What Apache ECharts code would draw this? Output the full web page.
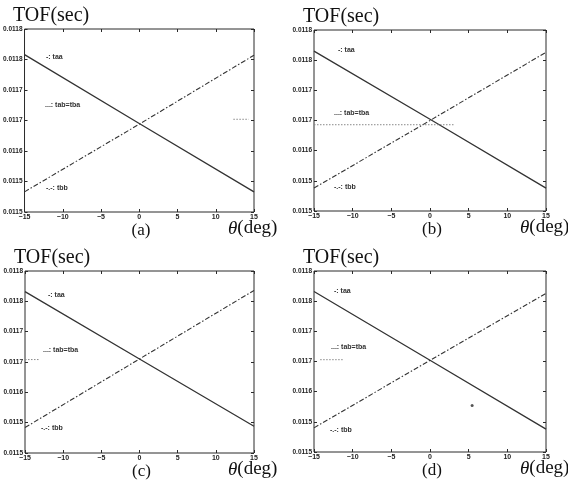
<!DOCTYPE html>
<html>
<head>
<meta charset="utf-8">
<script src="https://cdn.jsdelivr.net/npm/echarts@6/dist/echarts.min.js"></script>
<style>
  html, body { margin: 0; padding: 0; background: #fff; }
  #chart { width: 568px; height: 491px; }
</style>
</head>
<body>
<div id="chart"></div>
<script>
// theta values (deg) where the curves were read
const theta = [-15, 0, 15];
// MATLAB-style rounded tick labels, bottom to top
const yTickLabels = ["0.0115", "0.0115", "0.0116", "0.0117", "0.0117", "0.0118", "0.0118"];

// TOF (sec) per panel
const taaA = [0.011758, 0.011645, 0.011533];
const tbbA = [0.011533, 0.011644, 0.011757];
const tabA = [[12.3, 0.011652], [14.3, 0.011652]];

const taaB = [0.011765, 0.011652, 0.011538];
const tbbB = [0.011538, 0.01165, 0.011763];
const tabB = [[-15, 0.011643], [3.2, 0.011643]];

const taaC = [0.011766, 0.011655, 0.011544];
const tbbC = [0.011542, 0.011655, 0.011768];
const tabC = [[-15, 0.011654], [-13.2, 0.011654]];

const taaD = [0.011766, 0.011652, 0.011538];
const tbbD = [0.01154, 0.011652, 0.011763];
const tabD = [[-14.2, 0.011653], [-11.1, 0.011653]];
const strayD = [[5.45, 0.011577]];

const legendText = ["-: taa", "...: tab=tba", "-.-: tbb"];

const panels = [
  { name: "(a)", taa: taaA, tbb: tbbA, tab: tabA, stray: [],
    grid: { left: 24, top: 29, width: 230, height: 183 },
    ann: [[22, 0.153], [21, 0.415], [22, 0.869]] },
  { name: "(b)", taa: taaB, tbb: tbbB, tab: tabB, stray: [],
    grid: { left: 314, top: 30, width: 232, height: 181 },
    ann: [[24, 0.11], [20, 0.46], [20, 0.87]] },
  { name: "(c)", taa: taaC, tbb: tbbC, tab: tabC, stray: [],
    grid: { left: 25, top: 271, width: 229, height: 182 },
    ann: [[23, 0.13], [18, 0.434], [16, 0.863]] },
  { name: "(d)", taa: taaD, tbb: tbbD, tab: tabD, stray: strayD,
    grid: { left: 314, top: 271, width: 232, height: 181 },
    ann: [[20, 0.11], [17, 0.42], [16, 0.88]] },
];

const ink = "#2a2a2a";
const yFont = { fontSize: 6.5, fontWeight: "bold", fontFamily: "Liberation Sans", color: "#222" };
const xFont = { fontSize: 7, fontWeight: "bold", fontFamily: "Liberation Sans", color: "#222" };

const grids = [];
const xAxes = [];
const yAxes = [];
const series = [];
const graphics = [];

panels.forEach((p, i) => {
  grids.push(Object.assign({ show: true, borderColor: ink, borderWidth: 1, backgroundColor: "transparent" }, p.grid));

  const baseX = {
    type: "value", gridIndex: i, min: -15, max: 15, interval: 5,
    axisLine: { show: false, onZero: false },
    axisTick: { inside: true, length: 3, lineStyle: { color: ink } },
    splitLine: { show: false },
  };
  xAxes.push(Object.assign({}, baseX, {
    position: "bottom",
    axisLabel: Object.assign({ margin: 2, formatter: (v) => (v < 0 ? "\u2212" + Math.abs(v) : String(v)) }, xFont),
  }));
  xAxes.push(Object.assign({}, baseX, { position: "top", axisLabel: { show: false } }));

  const baseY = {
    type: "value", gridIndex: i, min: 0.0115, max: 0.0118, interval: 0.00005,
    axisLine: { show: false, onZero: false },
    axisTick: { inside: true, length: 3, lineStyle: { color: ink } },
    splitLine: { show: false },
  };
  yAxes.push(Object.assign({}, baseY, {
    position: "left",
    axisLabel: Object.assign({ margin: 2, formatter: (v, idx) => yTickLabels[idx] }, yFont),
  }));
  yAxes.push(Object.assign({}, baseY, { position: "right", axisLabel: { show: false } }));

  const xi = i * 2;
  series.push({
    name: "taa", type: "line", xAxisIndex: xi, yAxisIndex: xi, symbol: "none",
    data: theta.map((t, k) => [t, p.taa[k]]),
    lineStyle: { color: "#333", width: 1.3, type: "solid" }, silent: true,
  });
  series.push({
    name: "tbb", type: "line", xAxisIndex: xi, yAxisIndex: xi, symbol: "none",
    data: theta.map((t, k) => [t, p.tbb[k]]),
    lineStyle: { color: "#333", width: 1.1, type: [5, 2, 1.5, 2] }, silent: true,
  });
  series.push({
    name: "tab=tba", type: "line", xAxisIndex: xi, yAxisIndex: xi, symbol: "none",
    data: p.tab,
    lineStyle: { color: "#888", width: 1, type: [1.5, 1.5] }, silent: true,
  });
  if (p.stray.length) {
    series.push({
      name: "point", type: "scatter", xAxisIndex: xi, yAxisIndex: xi,
      symbolSize: 3, itemStyle: { color: ink }, data: p.stray, silent: true,
    });
  }

  const g = p.grid;
  const bottom = g.top + g.height;
  // axis titles and panel label
  graphics.push({
    type: "text", left: g.left - 11, top: g.top - 23,
    style: { text: "TOF(sec)", font: "20px 'Liberation Serif'", fill: "#111" },
  });
  graphics.push({
    type: "text", left: g.left + g.width - 26, top: bottom + 7,
    style: {
      text: "{t|\u03b8}(deg)", font: "19px 'Liberation Serif'", fill: "#111",
      rich: { t: { fontStyle: "italic", fontSize: 19, fontFamily: "Liberation Serif" } },
    },
  });
  graphics.push({
    type: "text", x: g.left + g.width / 2 + 2, y: bottom + 10,
    style: { text: p.name, font: "17px 'Liberation Serif'", fill: "#111", align: "center", verticalAlign: "top" },
  });
  // legend annotations (gtext style)
  p.ann.forEach((a, k) => {
    graphics.push({
      type: "text", x: g.left + a[0], y: g.top + a[1] * g.height,
      style: { text: legendText[k], font: "bold 7px 'Liberation Sans'", fill: "#333", verticalAlign: "middle" },
    });
  });
});

const chart = echarts.init(document.getElementById("chart"), null, { renderer: "canvas" });
chart.setOption({
  animation: false,
  backgroundColor: "#fff",
  grid: grids,
  xAxis: xAxes,
  yAxis: yAxes,
  series: series,
  graphic: graphics,
});
</script>
</body>
</html>
